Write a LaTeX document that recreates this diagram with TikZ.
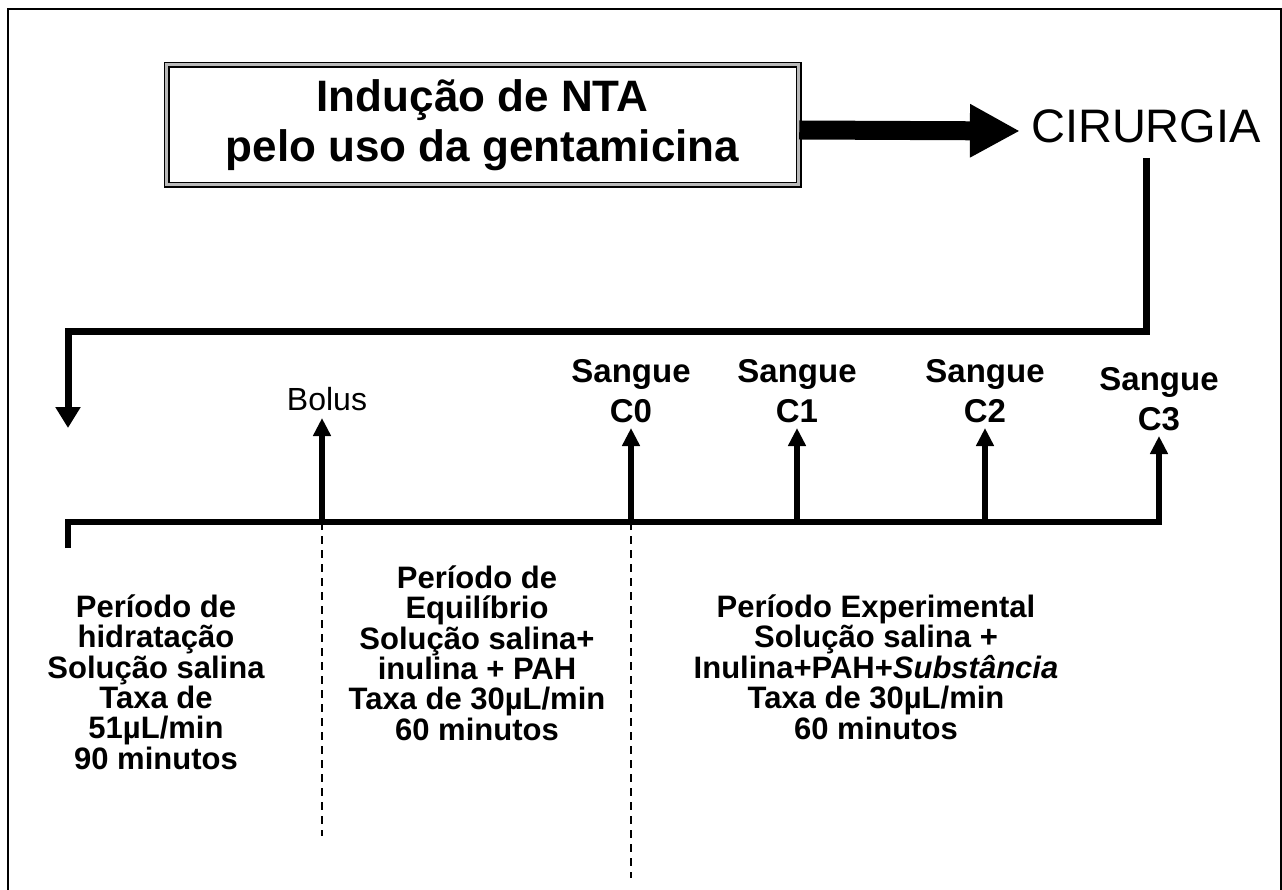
\documentclass[tikz,border=0pt]{standalone}
\usepackage{fontspec}
\setmainfont{Liberation Sans}
\usetikzlibrary{arrows.meta,positioning}

\begin{document}
\begin{tikzpicture}[x=1pt,y=-1pt]
\tikzstyle{periodo node}=[align=center,inner sep=0,font=\fontsize{31}{30.4}\selectfont\bfseries]
\tikzstyle{sangue node}=[align=center,inner sep=5pt,font=\fontsize{33}{40}\selectfont\bfseries]
\tikzset{
	titulo node/.style={draw,line width=1.5pt,double=gray!55,double distance=3pt,minimum width=632pt,minimum height=120pt,align=center,font=\fontsize{44}{50}\selectfont\bfseries},
	fio/.style={line width=7pt,-{Triangle[length=21pt,width=24pt]}},
	marco/.style={line width=5.5pt,-{Triangle[length=18pt,width=17pt]}},
	limite/.style={line width=1.4pt,dash pattern=on 8pt off 6pt}
}
\useasboundingbox (0,0) rectangle (1282,890);
\draw[line width=2.5pt] (8,9) rectangle (1281,920);

\node[titulo node] (titulo) at (482.5,125) {Indução de NTA\\pelo uso da gentamicina};
\node[font=\fontsize{47}{50}\selectfont,inner xsep=11pt,inner ysep=15pt] (cirurgia) at (1146,126) {CIRURGIA};
\draw[line width=19pt,-{Triangle[length=50pt,width=50pt]}] ([yshift=-5pt]titulo.east) -- ([yshift=-5pt]cirurgia.west);

\coordinate (canto) at (68,332);
\coordinate (desce) at (68,428);
\draw[fio] (cirurgia.south) |- (canto) -- (desce);

\coordinate (inicio) at (68,548);
\coordinate (b) at (322,522);
\coordinate (b0) at (631,522);
\coordinate (b1) at (797,522);
\coordinate (b2) at (985,522);
\coordinate (b3) at (1159,522);
\coordinate (pb) at (322,418);
\coordinate (p0) at (631,428);
\coordinate (p1) at (797,428);
\coordinate (p2) at (985,428);
\coordinate (p3) at (1159,436);

\node[font=\fontsize{32}{36}\selectfont,inner sep=7pt,above=0pt of pb,xshift=5pt] (bolus) {Bolus};
\node[sangue node,above=0pt of p0] (c0) {Sangue\\C0};
\node[sangue node,above=0pt of p1] (c1) {Sangue\\C1};
\node[sangue node,above=0pt of p2] (c2) {Sangue\\C2};
\node[sangue node,above=0pt of p3] (c3) {Sangue\\C3};

\draw[marco,line width=6pt] (inicio) |- (b3) -- (c3.south);
\draw[marco] (b) -- (bolus.south -| b);
\draw[marco] (b0) -- (c0);
\draw[marco] (b1) -- (c1);
\draw[marco] (b2) -- (c2);

\coordinate (fim) at (322,836);
\coordinate (fim0) at (631,878);
\draw[limite] (b) -- (fim);
\draw[limite] (b0) -- (fim0);

\node[periodo node] (hidratacao) at (156,682) {Período de\\hidratação\\Solução salina\\Taxa de\\51µL/min\\90 minutos};
\node[periodo node] (equilibrio) at (477,653) {Período de\\Equilíbrio\\Solução salina+\\inulina + PAH\\Taxa de 30µL/min\\60 minutos};
\node[periodo node] (experimental) at (876,667) {Período Experimental\\Solução salina +\\Inulina+PAH+\textit{Substância}\\Taxa de 30µL/min\\60 minutos};
\end{tikzpicture}
\end{document}
